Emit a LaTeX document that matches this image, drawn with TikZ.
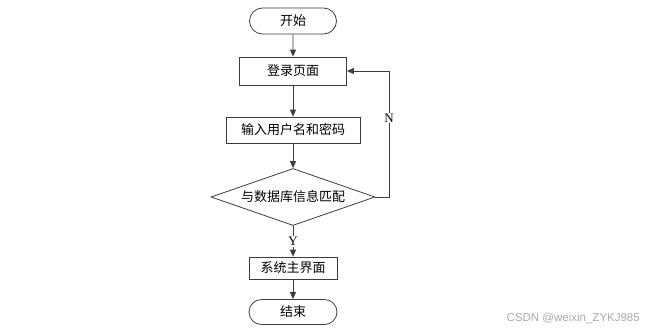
\documentclass[tikz,border=0pt]{standalone}
\usepackage{fontspec}
\setmainfont{Liberation Serif}
\newfontfamily\cjk{Noto Sans CJK SC}
\newfontfamily\wmfont{Liberation Sans}
\usetikzlibrary{arrows.meta,shapes.geometric,shapes.misc}
\definecolor{line1}{RGB}{60,60,60}
\definecolor{mark1}{RGB}{170,170,170}

\tikzset{
  box/.style={draw=line1, line width=0.8pt, inner sep=0pt, font=\cjk\fontsize{13}{15}\selectfont},
  term/.style={box, rounded rectangle},
  proc/.style={box, rectangle},
  test/.style={box, diamond, aspect=2.88},
  flow/.style={draw=line1, line width=0.8pt, -{Triangle[length=7pt,width=6pt]}},
  yn/.style={font=\fontsize{13}{15}\selectfont, inner sep=1pt}
}

\begin{document}
\begin{tikzpicture}[x=1pt,y=1pt]
\useasboundingbox (0,0) rectangle (650,-333);

% flow nodes
\node[term, minimum width=87, minimum height=26] (start) at (293,-21) {开始};
\node[proc, minimum width=107, minimum height=28] (login) at (293,-71) {登录页面};
\node[proc, minimum width=134, minimum height=26] (input) at (293,-130) {输入用户名和密码};
\node[test, minimum width=164, minimum height=57] (match) at (293,-197) {与数据库信息匹配};
\node[proc, minimum width=88, minimum height=22] (mainui) at (293,-268) {系统主界面};
\node[term, minimum width=88, minimum height=25] (stop) at (293,-312) {结束};

% connectors
\draw[flow] (start) -- (login);
\draw[flow] (login) -- (input);
\draw[flow] (input) -- (match);
\draw[flow] (match) -- node[yn, fill=white] (ylab) {Y} (mainui);
\draw[flow] (mainui) -- (stop);

% N loop back to login
\coordinate (nback) at (389,-71);
\draw[flow] (match.east) -| (nback) -- (login.east);
\node[yn, fill=white] (nlab) at (389,-118) {N};

% watermark
\node[font=\wmfont\fontsize{11.5}{13}\selectfont, text=mark1, anchor=east, inner sep=0pt] (wmark) at (640,-318) {CSDN @weixin\_ZYKJ985};
\end{tikzpicture}
\end{document}
